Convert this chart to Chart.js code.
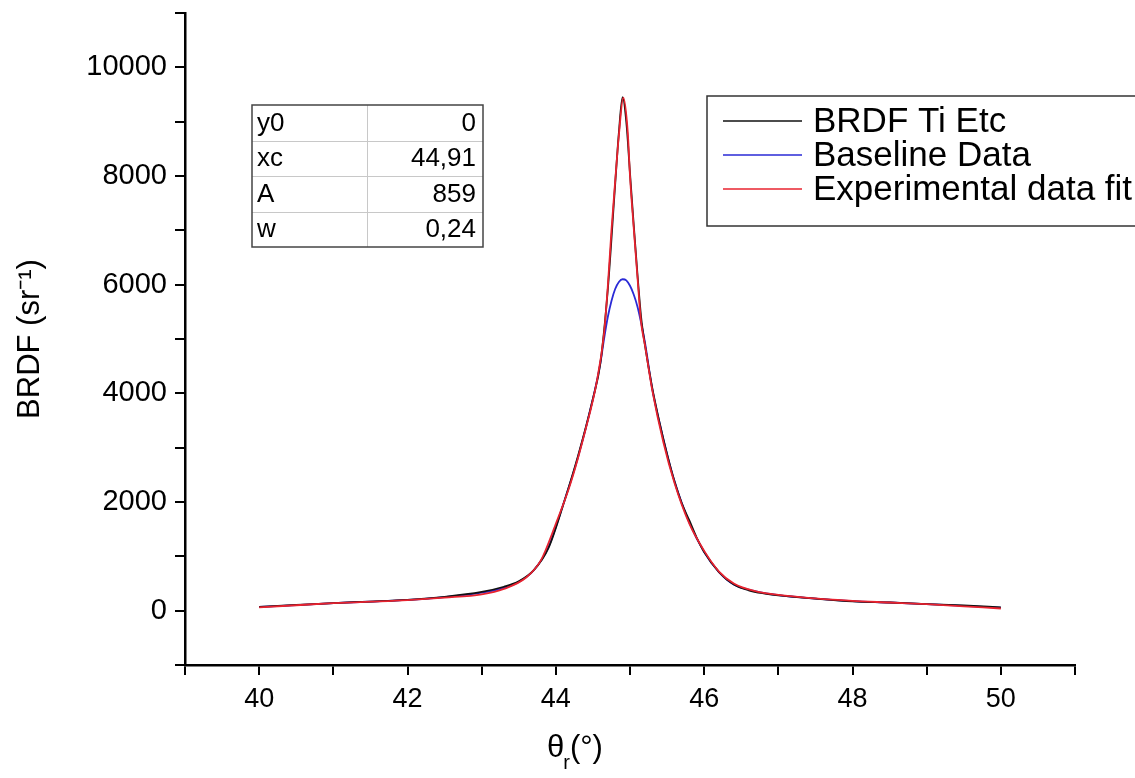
<!DOCTYPE html>
<html>
<head>
<meta charset="utf-8">
<script src="https://cdn.jsdelivr.net/npm/chart.js@4"></script>
<style>
html,body{margin:0;padding:0;background:#fff;}
#wrap{width:1135px;height:778px;position:relative;}
</style>
</head>
<body>
<div id="wrap"><canvas id="c" width="1135" height="778"></canvas></div>
<script>
// ---- data ----
const seriesNames = ['BRDF Ti Etc', 'Baseline Data', 'Experimental data fit'];

const measuredX = [40,40.5,41,41.5,42,42.5,43,43.3,43.5,43.7,43.9,44.1,44.3,44.5,44.6,44.7,44.8,44.85,44.9,44.95,45.0,45.05,45.1,45.15,45.2,45.3,45.4,45.5,45.6,45.7,45.8,45.9,46.0,46.2,46.4,46.6,46.8,47.0,47.5,48.0,48.5,49.0,49.5,50.0];
const measuredY = [70,105,140,168,200,255,345,440,540,740,1150,1950,2850,3900,4550,5900,7850,8800,9450,9000,8050,7100,6200,5400,4900,4100,3450,2880,2380,1970,1660,1340,1080,710,480,375,318,282,222,172,150,122,96,62];

const baselineX = [40,40.5,41,41.5,42,42.5,43,43.3,43.5,43.7,43.9,44.1,44.3,44.5,44.6,44.65,44.7,44.75,44.8,44.85,44.9,44.95,45.0,45.05,45.1,45.15,45.2,45.3,45.4,45.5,45.6,45.8,46.0,46.2,46.4,46.7,47.0,47.5,48.0,48.5,49.0,49.5,50.0];
const baselineY = [68,103,140,166,198,250,330,420,530,740,1170,1960,2830,3900,4550,5000,5400,5700,5920,6050,6100,6080,5980,5820,5600,5300,4950,4080,3450,2880,2380,1620,1080,710,480,355,285,222,175,150,120,90,55];

const fitX = [40,40.5,41,41.5,42,42.5,43,43.3,43.6,43.8,44.0,44.2,44.4,44.55,44.65,44.7,44.75,44.8,44.85,44.91,44.97,45.0,45.05,45.1,45.15,45.2,45.3,45.45,45.6,45.8,46.0,46.2,46.4,46.7,47.0,47.5,48.0,48.5,49.0,49.5,50.0];
const fitY = [62,100,138,165,195,240,300,400,610,930,1600,2350,3330,4200,5100,5950,7000,7900,8750,9440,8800,8000,7050,6150,5300,4900,4060,3100,2350,1600,1100,720,500,355,290,225,180,150,120,80,40];

const tableNames = ['y0', 'xc', 'A', 'w'];
const tableValues = ['0', '44,91', '859', '0,24'];

const xMin = 39, xMax = 51, xStep = 1;
const yMin = -1000, yMax = 11000, yStep = 1000;
const xTickLabels = [40, 42, 44, 46, 48, 50];
const yTickLabels = [0, 2000, 4000, 6000, 8000, 10000];

// ---- helpers ----
const pts = (xs, ys) => xs.map((x, i) => ({x: x, y: ys[i]}));
const FONT = "'Liberation Sans', Arial, sans-serif";

const overlay = {
  id: 'overlay',
  afterDraw(chart) {
    const ctx = chart.ctx;
    const a = chart.chartArea;
    ctx.save();

    // parameter table
    const tx = a.left + 67, ty = a.top + 92, tw = 231, rh = 35.5, split = 115;
    ctx.fillStyle = '#fff';
    ctx.fillRect(tx, ty, tw, rh * tableNames.length);
    ctx.strokeStyle = '#c8c8c8';
    ctx.lineWidth = 1;
    for (let i = 1; i < tableNames.length; i++) {
      ctx.beginPath();
      ctx.moveTo(tx, Math.round(ty + rh * i) + 0.5);
      ctx.lineTo(tx + tw, Math.round(ty + rh * i) + 0.5);
      ctx.stroke();
    }
    ctx.beginPath();
    ctx.moveTo(tx + split + 0.5, ty);
    ctx.lineTo(tx + split + 0.5, ty + rh * tableNames.length);
    ctx.stroke();
    ctx.strokeStyle = '#444';
    ctx.lineWidth = 1.5;
    ctx.strokeRect(tx, ty, tw, rh * tableNames.length);
    ctx.fillStyle = '#000';
    ctx.font = '26px ' + FONT;
    ctx.textBaseline = 'middle';
    tableNames.forEach((n, i) => {
      ctx.textAlign = 'left';
      ctx.fillText(n, tx + 5, ty + rh * i + rh / 2 + 1);
      ctx.textAlign = 'right';
      ctx.fillText(tableValues[i], tx + tw - 7, ty + rh * i + rh / 2 + 1);
    });

    // legend
    const lx = a.left + 522, ly = a.top + 83, lw = 440, lh = 130;
    ctx.fillStyle = '#fff';
    ctx.fillRect(lx, ly, lw, lh);
    ctx.strokeStyle = '#333';
    ctx.lineWidth = 1.5;
    ctx.strokeRect(lx, ly, lw, lh);
    ctx.font = '35px ' + FONT;
    ctx.textAlign = 'left';
    chart.data.datasets.forEach((ds, i) => {
      const yy = ly + 25 + i * 34;
      ctx.strokeStyle = ds.borderColor;
      ctx.lineWidth = 1.5;
      ctx.beginPath();
      ctx.moveTo(lx + 16, yy);
      ctx.lineTo(lx + 95, yy);
      ctx.stroke();
      ctx.fillStyle = '#000';
      ctx.fillText(ds.label, lx + 106, yy + 1);
    });

    // x axis title with subscript
    const cx = a.left + 362;
    const by = 757;
    ctx.fillStyle = '#000';
    ctx.textBaseline = 'alphabetic';
    ctx.textAlign = 'left';
    ctx.font = '31px ' + FONT;
    ctx.fillText('θ', cx, by);
    const w1 = ctx.measureText('θ').width;
    ctx.font = '20px ' + FONT;
    ctx.fillText('r', cx + w1 - 1, by + 12);
    const w2 = ctx.measureText('r').width;
    ctx.font = '31px ' + FONT;
    ctx.fillText('(°)', cx + w1 + w2 - 1, by);
    ctx.restore();
  }
};

new Chart(document.getElementById('c'), {
  type: 'line',
  data: {
    datasets: [
      {label: seriesNames[0], data: pts(measuredX, measuredY), borderColor: '#111111', borderWidth: 1.8, order: 2},
      {label: seriesNames[1], data: pts(baselineX, baselineY), borderColor: '#2a2ad6', borderWidth: 1.8, order: 3},
      {label: seriesNames[2], data: pts(fitX, fitY), borderColor: '#e8232f', borderWidth: 1.8, order: 1}
    ]
  },
  options: {
    responsive: false,
    animation: false,
    devicePixelRatio: 1,
    elements: {point: {radius: 0}, line: {tension: 0, cubicInterpolationMode: 'monotone', fill: false}},
    layout: {padding: {top: 13, right: 60, left: 0, bottom: 0}},
    plugins: {legend: {display: false}, tooltip: {enabled: false}},
    scales: {
      x: {
        type: 'linear', min: xMin, max: xMax,
        border: {display: true, color: '#000', width: 2.5},
        grid: {drawOnChartArea: false, drawTicks: true, tickLength: 10, tickColor: '#000', lineWidth: 2},
        ticks: {
          stepSize: xStep, autoSkip: false, maxRotation: 0, padding: 8, color: '#000',
          font: {family: FONT, size: 27},
          callback: v => xTickLabels.includes(v) ? String(v) : ''
        },
        afterFit: s => { s.height = 113; s.paddingLeft = 0; s.paddingRight = 0; }
      },
      y: {
        type: 'linear', min: yMin, max: yMax,
        border: {display: true, color: '#000', width: 2.5},
        grid: {drawOnChartArea: false, drawTicks: true, tickLength: 10, tickColor: '#000', lineWidth: 2},
        ticks: {
          stepSize: yStep, autoSkip: false, padding: 8, color: '#000',
          font: {family: FONT, size: 29},
          callback: v => yTickLabels.includes(v) ? String(v) : ''
        },
        title: {display: true, text: 'BRDF (sr⁻¹)', color: '#000', font: {family: FONT, size: 31}, padding: {top: 12, bottom: 0}},
        afterFit: s => { s.width = 185; s.paddingTop = 0; s.paddingBottom = 0; }
      }
    }
  },
  plugins: [overlay]
});
</script>
</body>
</html>
